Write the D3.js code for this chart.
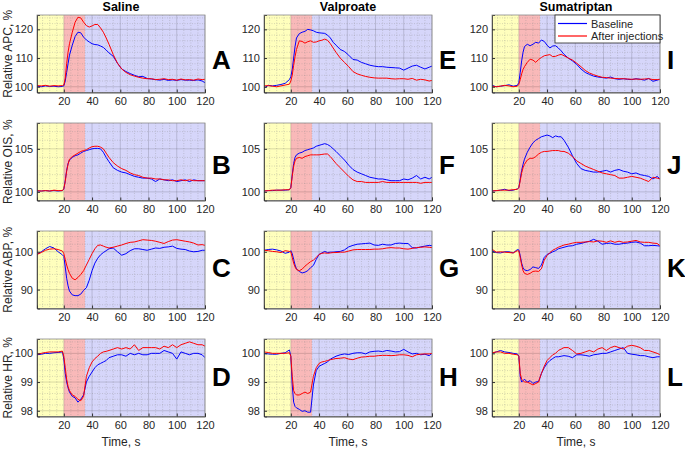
<!DOCTYPE html>
<html><head><meta charset="utf-8">
<script src="https://cdn.jsdelivr.net/npm/d3@7"></script>
<style>body{margin:0;background:#fff}svg{display:block;font-family:"Liberation Sans",Arial,sans-serif}</style>
</head><body><svg id="c" width="685" height="451"></svg>
<script>
const time=[1,4,7,10,13,16,19,20,21,22,23,24,26,28,30,32,34,36,38,40,42,44,46,48,50,52,55,58,61,64,67,70,73,76,79,82,85,88,91,94,97,100,103,106,109,112,115,118,120];
const conditions=["Saline","Valproate","Sumatriptan"];
const measures=["APC","OIS","ABP","HR"];
const letters=[["A","E","I"],["B","F","J"],["C","G","K"],["D","H","L"]];
const xTicks=[20,40,60,80,100,120];
const yTicksAPC=[100,110,120], yTicksOIS=[100,105], yTicksABP=[90,100], yTicksHR=[98,99,100];
const seriesNames=["Baseline","After injections"];

const salineAPC_base=[100.2,100.0,100.3,100.1,100.2,100.0,100.1,100.3,102,105,108,111,114.5,117.5,119,118.8,117.3,116.3,115.6,115,114.7,114.6,114.2,113.7,112.8,111.8,110.6,108.2,106.2,105.3,104.6,104.0,103.5,103.6,102.9,102.7,102.5,102.3,102.6,102.2,102.4,102.2,102.5,102.3,102.3,102.2,102.4,102.0,101.4];
const salineAPC_after=[100.4,100.3,100.5,100.2,100.4,100.3,100.4,100.6,103,108,112,115,119,122.5,124.2,124.0,122.5,121.3,120.8,121.2,121.7,121.7,120.5,119,117,114.8,111.2,108.2,106.2,105,104.2,103.7,103.3,103,102.8,102.8,102.5,102.6,102.8,102.5,102.6,102.3,102.7,102.4,102.5,102.3,102.7,102.5,102.6];
const salineOIS_base=[100.1,100.1,100.15,100.1,100.15,100.1,100.15,100.3,101.3,102.5,103.3,103.7,104.0,104.2,104.3,104.5,104.7,104.8,104.9,105.0,105.05,105.05,105.0,104.6,104.0,103.5,102.8,102.5,102.3,102.2,102.0,101.8,101.7,101.6,101.6,101.5,101.2,101.5,101.4,101.3,101.4,101.2,101.3,101.4,101.2,101.4,101.3,101.3,101.3];
const salineOIS_after=[100.15,100.1,100.15,100.1,100.2,100.15,100.15,100.4,101.2,102.4,103.2,103.8,104.1,104.3,104.5,104.7,104.8,104.9,105.1,105.25,105.3,105.3,105.2,105.0,104.5,104.0,103.4,103.0,102.7,102.5,102.2,102.0,101.9,101.7,101.6,101.6,101.5,101.5,101.4,101.4,101.3,101.3,101.4,101.3,101.4,101.3,101.3,101.3,101.3];
const salineABP_base=[99.3,100.0,100.8,101.4,101.0,100.0,99.2,98.8,96.0,93.0,91.0,89.6,88.6,88.4,88.4,88.8,89.8,90.5,92.5,95.0,97.0,98.3,99.2,99.8,100.3,100.8,101.0,100.0,99.1,99.5,100.3,100.8,100.8,100.6,100.4,100.7,101.0,100.9,101.2,101.3,101.5,100.9,100.7,100.6,100.2,100.0,100.1,100.4,100.4];
const salineABP_after=[99.3,99.8,100.4,100.7,100.8,100.6,100.2,99.5,98.0,96.5,95.3,94.3,93.0,92.6,93.2,94.0,95.0,96.5,98.0,99.5,100.8,101.7,101.8,101.5,101.2,101.0,101.2,101.5,101.8,102.2,102.5,102.6,102.9,103.2,103.1,103.0,102.8,102.5,102.2,102.7,103.1,103.2,103.0,102.8,102.6,102.3,101.8,101.9,101.7];
const salineHR_base=[99.95,99.97,100.0,100.0,100.02,100.03,100.05,99.8,99.3,99.0,98.8,98.65,98.5,98.45,98.3,98.4,98.55,99.0,99.2,99.35,99.5,99.6,99.65,99.7,99.75,99.85,99.9,99.95,99.95,99.9,100.0,99.95,100.0,99.95,99.95,100.0,100.0,100.0,100.1,100.05,100.0,99.8,100.05,100.0,99.95,100.0,100.0,99.95,99.85];
const salineHR_after=[99.97,100.0,100.03,100.05,100.05,100.05,100.08,99.9,99.5,99.1,98.85,98.7,98.55,98.5,98.4,98.35,98.5,99.2,99.5,99.7,99.82,99.9,100.0,100.05,100.07,100.1,100.15,100.2,100.15,100.2,100.15,100.3,100.1,100.2,100.2,100.2,100.2,100.15,100.25,100.2,100.3,100.2,100.3,100.35,100.4,100.35,100.3,100.3,100.25];
const valproateAPC_base=[99.5,100.5,100.3,100.5,100.8,101.2,102.5,103.5,106,110,114,117,118.5,119,119.3,120,119.8,119.5,119,118.8,118.7,118.6,118,117,115.5,114.5,113,112.3,111,109.5,109.3,108.5,108,107.5,107.2,107,107,106.8,106.7,106.6,106.5,105.8,106.5,107.2,107.5,106.8,106.2,106.8,107.2];
const valproateAPC_after=[100.3,100.4,100.2,100.0,100.3,100.6,100.9,102,104,107.5,110.5,113,116,115.8,115.2,115.7,116,115.5,115.6,116,116.2,116.6,116.2,115,113.5,112,110,108.5,107,105.3,104.5,104,103.6,103.3,103.1,103.0,103.0,103.0,102.8,102.7,102.8,102.8,102.6,102.9,102.3,102.6,102.4,102.0,102.2];
const valproateOIS_base=[100.1,100.15,100.15,100.2,100.2,100.2,100.25,100.5,102,103.3,104.0,104.3,104.5,104.6,104.8,104.9,105.0,105.1,105.3,105.4,105.5,105.6,105.5,105.3,105.0,104.7,104.2,103.7,103.1,102.6,102.3,102.1,101.9,101.7,101.6,101.5,101.5,101.4,101.3,101.3,101.3,101.5,101.4,101.6,101.9,101.5,101.7,101.5,101.7];
const valproateOIS_after=[100.1,100.15,100.2,100.2,100.2,100.25,100.25,100.5,101.8,103.0,103.6,103.9,104.0,103.9,104.1,104.2,104.3,104.3,104.3,104.3,104.35,104.4,104.4,104.1,103.7,103.3,102.8,102.3,101.8,101.4,101.2,101.2,101.1,101.1,101.1,101.1,101.2,101.1,101.1,101.1,101.1,101.1,101.1,101.1,101.1,101.0,101.1,101.1,101.1];
const valproateABP_base=[100.4,100.6,100.7,100.5,100.2,99.6,99.9,100.3,99.5,98,96.5,95.5,94.8,94.4,94.6,95.0,95.8,96.4,98,99.3,99.7,100.1,99.8,99.9,99.9,100.0,100.1,100.5,101.3,101.7,102.0,102.1,102.2,102.3,101.8,101.7,102.0,101.8,101.8,102.2,102.3,102.2,102.2,101.1,101.0,101.3,101.5,101.7,101.6];
const valproateABP_after=[100.4,100.3,100.1,100.0,99.8,100.3,100.1,100.0,98.5,97.0,96.0,95.3,95.0,95.4,96.2,96.8,97.4,97.8,98.5,99.3,99.6,99.7,99.6,99.7,99.8,99.8,99.9,99.9,100.2,100.5,100.6,100.6,100.6,100.6,100.7,100.7,100.8,101.0,101.1,101.0,101.0,100.8,100.7,100.9,101.1,101.2,101.3,101.2,101.1];
const valproateHR_base=[100.0,99.98,99.97,99.97,100.0,100.02,100.12,99.9,98.9,98.3,98.15,98.1,98.05,97.98,98.0,97.95,97.95,98.9,99.4,99.55,99.6,99.65,99.7,99.8,99.85,99.9,99.95,99.98,99.96,100.0,100.02,100.02,99.98,100.05,100.07,100.08,100.06,100.1,100.08,100.05,100.06,100.14,100.05,99.98,100.0,99.95,99.97,99.92,100.0];
const valproateHR_after=[100.05,100.03,100.0,100.0,100.0,100.0,100.02,99.9,99.2,98.7,98.6,98.55,98.55,98.6,98.65,98.6,98.65,99.2,99.5,99.65,99.7,99.72,99.75,99.78,99.8,99.82,99.83,99.85,99.8,99.78,99.83,99.87,99.88,99.9,99.9,99.92,99.93,99.93,99.92,99.93,99.95,99.95,99.93,99.88,99.95,99.97,99.98,99.98,100.0];
const sumatriptanAPC_base=[100.5,100.0,100.2,100.4,100.7,100.2,100.5,101.5,105,109,112,114,114.8,114.3,114.8,115.5,115.2,116.3,115.8,114.5,113.5,114.2,114.3,113.5,112.5,111.3,110.0,109.0,107.8,106.2,105,104.3,103.7,103.4,103.2,103.0,103.4,102.8,102.6,102.8,102.6,102.5,102.8,102.6,102.3,102.9,101.9,102.3,102.6];
const sumatriptanAPC_after=[100.2,100.0,100.2,100.5,100.3,100.0,100.2,100.8,102.5,104.5,106,107,108.5,109.6,109.3,108.5,109.5,110.2,110.8,111.0,111.2,110.5,110.6,111.0,111.3,110.8,110.0,109.3,108.2,107.0,105.7,104.8,104.2,103.7,103.3,103.2,103.0,102.9,102.8,102.8,102.7,102.6,102.7,102.6,102.7,102.8,102.5,102.5,102.6];
const sumatriptanOIS_base=[100.1,100.15,100.2,100.3,100.15,100.2,100.35,100.5,101.5,102.5,103.2,103.8,104.6,105.2,105.7,106.0,106.2,106.4,106.5,106.6,106.5,106.3,106.5,106.4,106.4,106.0,105.2,104.2,103.3,102.7,102.5,102.4,102.3,102.3,102.4,102.5,102.3,102.5,102.6,102.4,102.3,102.1,102.2,102.0,101.9,101.8,101.5,101.8,101.5];
const sumatriptanOIS_after=[100.1,100.15,100.2,100.2,100.2,100.25,100.3,100.5,101.3,102.2,102.8,103.2,103.7,103.9,103.9,104.1,104.4,104.6,104.7,104.7,104.75,104.8,104.8,104.8,104.7,104.7,104.5,104.1,103.6,103.3,103.0,102.8,102.6,102.4,102.2,102.1,102.0,101.9,101.6,101.6,101.7,101.8,101.7,101.6,101.4,101.2,101.7,101.6,101.5];
const sumatriptanABP_base=[100.2,99.8,99.7,100.0,100.0,99.7,100.6,100.5,99,97,95.8,95.2,95.0,95.3,96.0,95.8,95.6,96.5,98.5,99.3,99.6,100.0,100.3,100.8,101.0,101.2,101.5,101.6,102.0,102.2,102.5,102.8,103.3,102.8,102.0,102.2,102.3,102.0,102.0,102.2,102.3,102.5,102.6,102.3,101.6,101.6,101.7,101.6,101.5];
const sumatriptanABP_after=[100.7,99.9,100.0,99.9,99.8,99.7,100.3,100.2,98.5,96.5,95.0,94.3,94.0,94.3,94.8,94.9,94.8,95.5,97.8,99.0,99.8,100.4,100.8,101.2,101.5,101.8,102.0,102.3,102.5,102.5,102.6,102.7,102.6,102.9,102.8,102.5,102.9,102.5,102.8,102.5,102.6,102.8,103.0,102.6,102.5,102.5,102.3,102.2,101.6];
const sumatriptanHR_base=[100.0,100.05,100.1,100.05,100.03,100.0,99.98,99.9,99.2,99.0,99.05,99.1,99.0,99.05,98.95,99.0,99.02,99.3,99.5,99.65,99.75,99.82,99.88,99.88,99.9,99.92,99.9,99.85,99.95,99.95,99.93,99.9,99.95,99.97,100.0,100.0,100.05,100.1,100.15,100.2,100.0,99.97,99.95,99.92,99.92,99.88,99.85,99.88,99.88];
const sumatriptanHR_after=[100.02,100.05,100.05,100.0,100.0,99.97,99.95,99.9,99.3,99.1,99.05,99.0,99.0,98.95,98.9,98.95,99.0,99.3,99.55,99.75,99.85,99.95,100.0,100.1,100.15,100.2,100.2,100.1,99.98,100.0,100.05,100.1,100.05,100.15,100.2,100.1,100.2,100.25,100.2,100.15,100.25,100.28,100.25,100.2,100.1,100.1,100.05,100.0,99.95];

const panelData=[
 [[salineAPC_base,salineAPC_after],[valproateAPC_base,valproateAPC_after],[sumatriptanAPC_base,sumatriptanAPC_after]],
 [[salineOIS_base,salineOIS_after],[valproateOIS_base,valproateOIS_after],[sumatriptanOIS_base,sumatriptanOIS_after]],
 [[salineABP_base,salineABP_after],[valproateABP_base,valproateABP_after],[sumatriptanABP_base,sumatriptanABP_after]],
 [[salineHR_base,salineHR_after],[valproateHR_base,valproateHR_after],[sumatriptanHR_base,sumatriptanHR_after]]
];
const yDomains=[[98,125],[99,108],[85,105.5],[97.8,100.5]];
const yTicks=[yTicksAPC,yTicksOIS,yTicksABP,yTicksHR];
const yMinor=[2,1,2,0.2];
const phases=[[1,20,"#ffffbd"],[20,35,"#f9b9b9"],[35,120,"#d6d6fa"]];

const colLeft=[37,264,492], plotW=168;
const rowTop=[15,123,231,339], plotH=77.5;
const letterY=[60,165,268,377];
const lineColors=["#0000ff","#ff0000"];
const txt="#262626";

const svg=d3.select("#c");
conditions.forEach((c,ci)=>{
  svg.append("text").attr("x",colLeft[ci]+plotW/2).attr("y",11).attr("text-anchor","middle")
    .attr("font-size",12.5).attr("font-weight","bold").attr("fill","#000").text(c);
  svg.append("text").attr("x",colLeft[ci]+plotW/2).attr("y",446).attr("text-anchor","middle")
    .attr("font-size",12).attr("fill",txt).text("Time, s");
});

measures.forEach((m,ri)=>{
  conditions.forEach((c,ci)=>{
    const x=d3.scaleLinear().domain([1,120]).range([colLeft[ci],colLeft[ci]+plotW]);
    const y=d3.scaleLinear().domain(yDomains[ri]).range([rowTop[ri]+plotH,rowTop[ri]]);
    const g=svg.append("g");
    const cid=`clip${ri}${ci}`;
    g.append("clipPath").attr("id",cid).append("rect")
      .attr("x",colLeft[ci]).attr("y",rowTop[ri]).attr("width",plotW).attr("height",plotH);
    phases.forEach(p=>{
      g.append("rect").attr("x",x(p[0])).attr("y",rowTop[ri]).attr("width",x(p[1])-x(p[0]))
        .attr("height",plotH).attr("fill",p[2]);
    });
    const xm=d3.range(5,120,5).filter(v=>!xTicks.includes(v));
    g.selectAll(null).data(xm).join("line").attr("x1",d=>x(d)).attr("x2",d=>x(d))
      .attr("y1",rowTop[ri]).attr("y2",rowTop[ri]+plotH)
      .attr("stroke","#888").attr("stroke-opacity",0.55).attr("stroke-width",0.6).attr("stroke-dasharray","1,1.5");
    const [y0,y1]=yDomains[ri];
    const step=yMinor[ri];
    const ym=d3.range(Math.ceil(y0/step)*step,y1,step).map(v=>+v.toFixed(4)).filter(v=>!yTicks[ri].some(t=>Math.abs(t-v)<1e-6));
    g.selectAll(null).data(ym).join("line").attr("y1",d=>y(d)).attr("y2",d=>y(d))
      .attr("x1",colLeft[ci]).attr("x2",colLeft[ci]+plotW)
      .attr("stroke","#888").attr("stroke-opacity",0.55).attr("stroke-width",0.6).attr("stroke-dasharray","1,1.5");
    g.selectAll(null).data(xTicks).join("line").attr("x1",d=>x(d)).attr("x2",d=>x(d))
      .attr("y1",rowTop[ri]).attr("y2",rowTop[ri]+plotH).attr("stroke","#000").attr("stroke-opacity",0.15).attr("stroke-width",1);
    g.selectAll(null).data(yTicks[ri]).join("line").attr("y1",d=>y(d)).attr("y2",d=>y(d))
      .attr("x1",colLeft[ci]).attr("x2",colLeft[ci]+plotW).attr("stroke","#000").attr("stroke-opacity",0.15).attr("stroke-width",1);
    const line=d3.line().x((d,i)=>x(time[i])).y(d=>y(d));
    panelData[ri][ci].forEach((s,si)=>{
      g.append("path").datum(s).attr("d",line).attr("fill","none").attr("clip-path",`url(#${cid})`)
        .attr("stroke",lineColors[si]).attr("stroke-width",1);
    });
    g.append("rect").attr("x",colLeft[ci]).attr("y",rowTop[ri]).attr("width",plotW).attr("height",plotH)
      .attr("fill","none").attr("stroke","#8a8a8a").attr("stroke-width",0.8);
    const xa=g.append("g").attr("transform",`translate(0,${rowTop[ri]+plotH})`)
      .call(d3.axisBottom(x).tickValues(xTicks).tickSize(-3).tickPadding(5).tickFormat(d3.format("d")));
    const ya=g.append("g").attr("transform",`translate(${colLeft[ci]},0)`)
      .call(d3.axisLeft(y).tickValues(yTicks[ri]).tickSize(-3).tickPadding(4).tickFormat(d3.format("d")));
    [xa,ya].forEach(a=>{
      a.select(".domain").attr("stroke","#333").attr("stroke-width",0.8);
      a.selectAll(".tick line").attr("stroke","#333");
      a.selectAll("text").attr("font-size",11).attr("fill",txt).attr("font-family","Liberation Sans, Arial, sans-serif");
    });
    svg.append("text").attr("x",colLeft[ci]+plotW+7).attr("y",letterY[ri]).attr("dominant-baseline","central")
      .attr("font-size",26).attr("font-weight","bold").attr("fill","#000").text(letters[ri][ci]);
    if(ci===0){
      svg.append("text").attr("transform",`translate(12,${rowTop[ri]+plotH/2}) rotate(-90)`)
        .attr("text-anchor","middle").attr("font-size",12).attr("fill",txt).text(`Relative ${m}, %`);
    }
  });
});

const lg=svg.append("g");
const lx=555, ly=15;
lg.append("rect").attr("x",lx).attr("y",ly).attr("width",105).attr("height",28).attr("fill","#fff").attr("stroke","#262626").attr("stroke-width",0.8);
seriesNames.forEach((n,i)=>{
  const yy=ly+8.5+i*12.5;
  lg.append("line").attr("x1",lx+3).attr("x2",lx+32).attr("y1",yy).attr("y2",yy).attr("stroke",lineColors[i]).attr("stroke-width",1.2);
  lg.append("text").attr("x",lx+36).attr("y",yy).attr("dominant-baseline","central").attr("font-size",11).attr("fill",txt).text(n);
});
</script></body></html>
